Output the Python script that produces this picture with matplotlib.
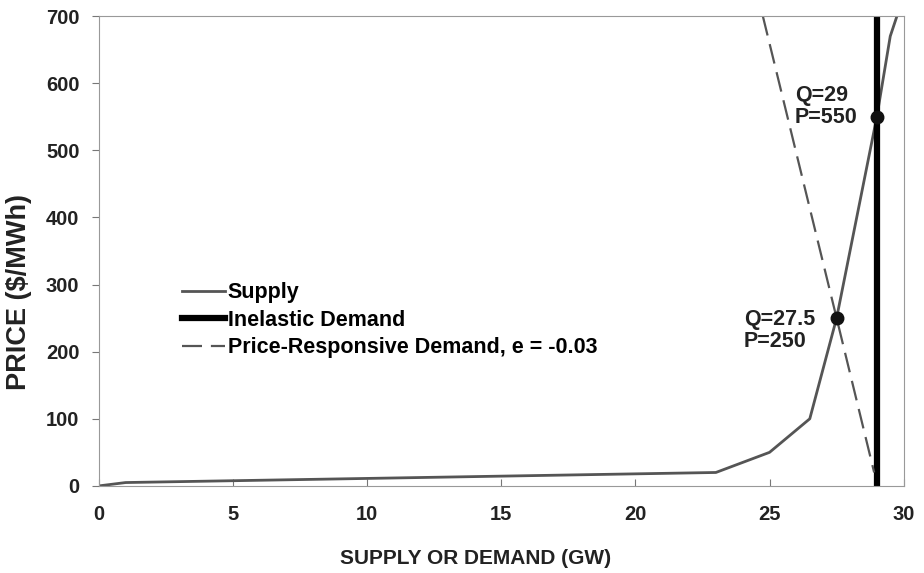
import matplotlib.pyplot as plt

# supply curve (GW, $/MWh)
supply_q = [0, 1, 23, 25, 26.5, 27.5, 29, 29.5, 29.75]
supply_p = [0, 5, 20, 50, 100, 250, 550, 670, 700]

# inelastic demand
inelastic_q = [29, 29]
inelastic_p = [0, 700]

# price-responsive demand
resp_q = [24.75, 27.5, 28.9]
resp_p = [700, 250, 20]

# equilibrium points
eq_q = [29, 27.5]
eq_p = [550, 250]
eq_labels = ["Q=29\nP=550", "Q=27.5\nP=250"]
eq_label_pos = [(25.95, 598), (24.05, 264)]

plt.rcParams["font.family"] = ["Liberation Sans", "DejaVu Sans"]

fig = plt.figure(figsize=(9.24, 5.73), dpi=100)
ax = fig.add_axes([0.107, 0.152, 0.871, 0.820])

ax.plot(supply_q, supply_p, color="#555555", lw=2, label="Supply")
ax.plot(inelastic_q, inelastic_p, color="black", lw=4.5, label="Inelastic Demand")
ax.plot(resp_q, resp_p, color="#555555", lw=1.6, dashes=(9, 4),
        label="Price-Responsive Demand, e = -0.03")
ax.plot(eq_q, eq_p, "o", color="#111111", ms=9, zorder=5)

for lab, (x, y) in zip(eq_labels, eq_label_pos):
    ax.text(x, y, lab, fontsize=15.5, fontweight="bold", color="#222222",
            va="top", ha="left", linespacing=1.1)

ax.set_xlim(0, 30)
ax.set_ylim(0, 700)
ax.set_xticks(range(0, 31, 5))
ax.set_yticks(range(0, 701, 100))

for s in ax.spines.values():
    s.set_color("#999999")
ax.tick_params(axis="x", direction="in", length=5, color="#777777", pad=14)
ax.tick_params(axis="y", direction="out", length=5, color="#777777", pad=9)
for t in ax.get_xticklabels() + ax.get_yticklabels():
    t.set_fontweight("bold")
    t.set_fontsize(14.5)
    t.set_color("#222222")

ax.set_xlabel("SUPPLY OR DEMAND (GW)", fontweight="bold",
              fontsize=15, labelpad=16, color="#222222")
ax.xaxis.set_label_coords(0.468, -0.135)
ax.set_ylabel("PRICE ($/MWh)", fontweight="bold",
              fontsize=19.5, color="#222222")
ax.yaxis.set_label_coords(-0.083, 0.413)

ax.legend(loc="upper left", bbox_to_anchor=(0.092, 0.452), frameon=False,
          handlelength=2.0, handletextpad=0.15, labelspacing=0.3,
          borderaxespad=0, prop={"weight": "bold", "size": 15.5})

fig.savefig("out.png", dpi=100)
